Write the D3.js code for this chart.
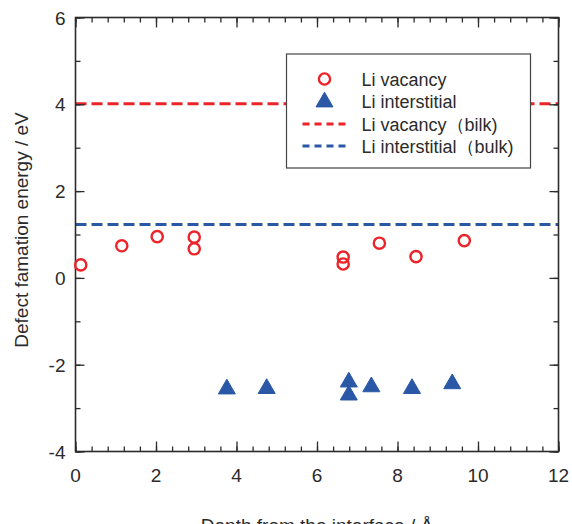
<!DOCTYPE html>
<html>
<head>
<meta charset="utf-8">
<script src="https://cdn.jsdelivr.net/npm/d3@7"></script>
<style>
  body { margin: 0; background: #fff; }
  svg { display: block; font-family: "Liberation Sans", Arial, sans-serif; }
</style>
</head>
<body>
<div id="chart"></div>
<script>
// datos
var vacancyDepth  = [0.13, 1.15, 2.03, 2.95, 2.95, 6.65, 6.65, 7.55, 8.46, 9.66];
var vacancyEnergy = [0.30, 0.74, 0.95, 0.94, 0.67, 0.48, 0.32, 0.80, 0.49, 0.86];
var interDepth    = [3.76, 4.75, 6.79, 6.79, 7.35, 8.36, 9.36];
var interEnergy   = [-2.56, -2.55, -2.40, -2.70, -2.51, -2.55, -2.44];
var bulkLevels    = [4.01, 1.23]; // vacancy, interstitial
var xTicks = [0, 2, 4, 6, 8, 10, 12];
var yTicks = [-4, -2, 0, 2, 4, 6];
var legendLabels = ["Li vacancy", "Li interstitial", "Li vacancy\uFF08bilk)", "Li interstitial\uFF08bulk)"];

var RED = "#ec2329", BLUE = "#2a58a6", AX = "#2b2b2b";

var W = 572, H = 524;
var margin = { top: 17.5, right: 13.5, bottom: 72.5, left: 75.5 };
var width = W - margin.left - margin.right,
    height = H - margin.top - margin.bottom;

var svg = d3.select("#chart").append("svg")
  .attr("width", W)
  .attr("height", H);

var g = svg.append("g")
  .attr("transform", "translate(" + margin.left + "," + margin.top + ")");

var x = d3.scaleLinear().domain([0, 12]).range([0, width]);
var y = d3.scaleLinear().domain([-4, 6]).range([height, 0]);

// lineas de bulk
g.selectAll(".bulk")
  .data(bulkLevels)
  .enter().append("line")
  .attr("x1", 0).attr("x2", width)
  .attr("y1", function (d) { return y(d); })
  .attr("y2", function (d) { return y(d); })
  .attr("stroke", function (d, i) { return i == 0 ? RED : BLUE; })
  .attr("stroke-width", 3)
  .style("stroke-dasharray", "11,5");

// ejes con ticks hacia adentro
function axisStyle(sel) {
  sel.select(".domain").remove();
  sel.selectAll("line").attr("stroke", AX).attr("stroke-width", 1.3);
  sel.selectAll("text").remove();
}
var xMinor = d3.range(0, 12.01, 0.4);
var yMinor = d3.range(-4, 6.01, 1);

g.append("g").attr("transform", "translate(0," + height + ")")
  .call(d3.axisBottom(x).tickValues(xMinor).tickSize(-5)).call(axisStyle);
g.append("g").attr("transform", "translate(0," + height + ")")
  .call(d3.axisBottom(x).tickValues(xTicks).tickSize(-10)).call(axisStyle);
g.append("g")
  .call(d3.axisTop(x).tickValues(xMinor).tickSize(-5)).call(axisStyle);
g.append("g")
  .call(d3.axisTop(x).tickValues(xTicks).tickSize(-10)).call(axisStyle);
g.append("g")
  .call(d3.axisLeft(y).tickValues(yMinor).tickSize(-5)).call(axisStyle);
g.append("g")
  .call(d3.axisLeft(y).tickValues(yTicks).tickSize(-9)).call(axisStyle);
g.append("g").attr("transform", "translate(" + width + ",0)")
  .call(d3.axisRight(y).tickValues(yMinor).tickSize(-5)).call(axisStyle);
g.append("g").attr("transform", "translate(" + width + ",0)")
  .call(d3.axisRight(y).tickValues(yTicks).tickSize(-9)).call(axisStyle);

g.append("rect")
  .attr("width", width).attr("height", height)
  .attr("fill", "none").attr("stroke", AX).attr("stroke-width", 1.6);

// etiquetas de ticks
g.selectAll(".xlab").data(xTicks).enter().append("text")
  .attr("x", function (d) { return x(d); })
  .attr("y", height + 30)
  .attr("text-anchor", "middle")
  .style("font-size", "19px").style("fill", AX)
  .text(function (d) { return d; });

g.selectAll(".ylab").data(yTicks).enter().append("text")
  .attr("x", -10)
  .attr("y", function (d) { return y(d) + 7; })
  .attr("text-anchor", "end")
  .style("font-size", "19px").style("fill", AX)
  .text(function (d) { return d; });

// titulos de ejes
svg.append("text")
  .attr("x", 317)
  .attr("y", 532)
  .attr("text-anchor", "middle")
  .style("font-size", "19px").style("fill", AX)
  .text("Depth from the interface / \u00C5");

svg.append("text")
  .attr("transform", "translate(28,230) rotate(-90)")
  .attr("text-anchor", "middle")
  .style("font-size", "19px").style("fill", AX)
  .text("Defect famation energy / eV");

// puntos
var tri = d3.symbol().type(d3.symbolTriangle).size(125);

g.selectAll(".inter")
  .data(interDepth)
  .enter().append("path")
  .attr("d", tri)
  .attr("transform", function (d, i) { return "translate(" + x(d) + "," + y(interEnergy[i]) + ")"; })
  .attr("fill", BLUE)
  .attr("stroke", BLUE).attr("stroke-width", 1).attr("stroke-linejoin", "round");

g.selectAll(".vac")
  .data(vacancyDepth)
  .enter().append("circle")
  .attr("cx", function (d) { return x(d); })
  .attr("cy", function (d, i) { return y(vacancyEnergy[i]); })
  .attr("r", 5.6)
  .attr("fill", "none")
  .attr("stroke", RED)
  .attr("stroke-width", 2.4);

// leyenda
var leg = svg.append("g").attr("transform", "translate(286.5,54)");
leg.append("rect")
  .attr("width", 244).attr("height", 114)
  .attr("fill", "#fff").attr("stroke", "#444").attr("stroke-width", 1.2);

var rowY = [25, 47, 70, 92];
leg.selectAll(".lt").data(legendLabels).enter().append("text")
  .attr("x", 75)
  .attr("y", function (d, i) { return rowY[i] + 6.5; })
  .style("font-size", "18px").style("fill", AX)
  .text(function (d) { return d; });

leg.append("circle")
  .attr("cx", 38).attr("cy", rowY[0]).attr("r", 5.6)
  .attr("fill", "none").attr("stroke", RED).attr("stroke-width", 2.4);
leg.append("path")
  .attr("d", tri)
  .attr("transform", "translate(38," + (rowY[1] + 1) + ")")
  .attr("fill", BLUE).attr("stroke", BLUE).attr("stroke-width", 1);
[RED, BLUE].forEach(function (c, i) {
  leg.append("line")
    .attr("x1", 16).attr("x2", 61)
    .attr("y1", rowY[2 + i]).attr("y2", rowY[2 + i])
    .attr("stroke", c).attr("stroke-width", 3)
    .style("stroke-dasharray", "7,5");
});
</script>
</body>
</html>
